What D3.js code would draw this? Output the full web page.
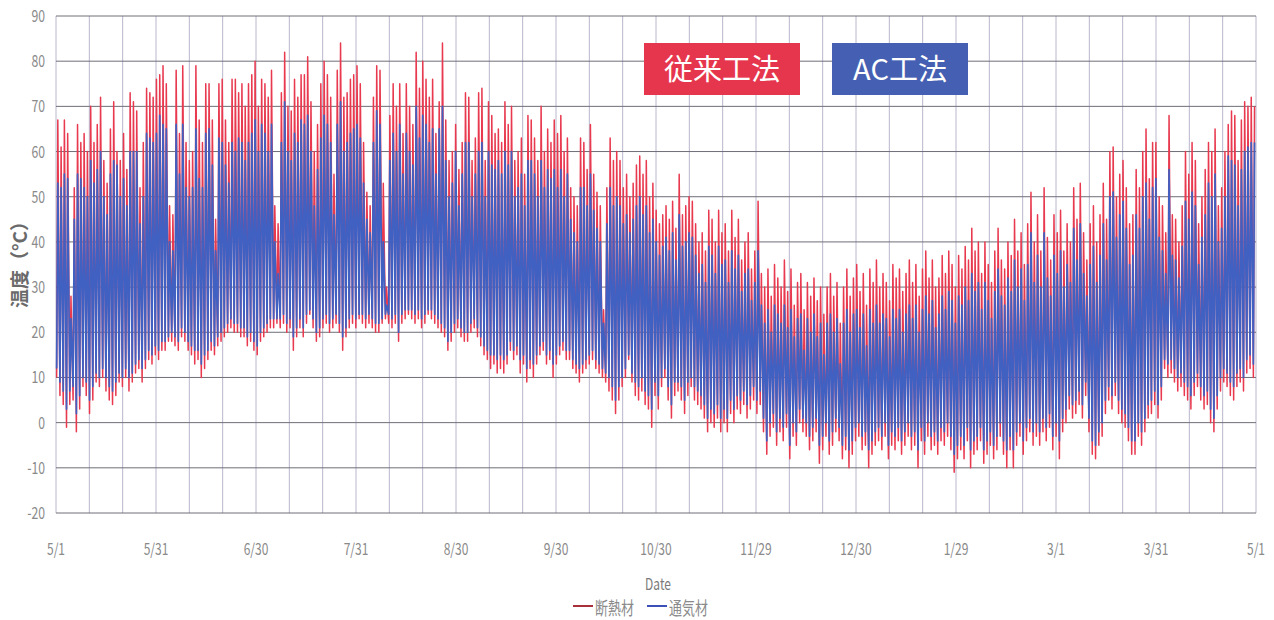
<!DOCTYPE html>
<html>
<head>
  <meta charset="UTF-8" />
  <title>温度</title>
  <script src="https://d3js.org/d3.v7.min.js"></script>
  <style>
    body { margin: 0; background: #fff; }
    text { font-family: "Noto Sans CJK JP", "Noto Sans", sans-serif; }
  </style>
</head>
<body>
  <div id="chart"></div>
  <script>
    // x axis labels (one every 730 hours), y ticks
    const tickLabels = ["5/1", "5/31", "6/30", "7/31", "8/30", "9/30", "10/30", "11/29", "12/30", "1/29", "3/1", "3/31", "5/1"];
    const yTicks = [-20, -10, 0, 10, 20, 30, 40, 50, 60, 70, 80, 90];
    const seriesNames = ["断熱材", "通気材"];
    const methodLabels = ["従来工法", "AC工法"];

    // daily max / min, day 0 = 5/1
    const redMax = [
      67,61,67,64,28,52,66,62,64,60, 70,62,66,72,58,53,65,71,60,58,
      64,56,73,71,69,52,62,74,73,72, 76,77,79,75,48,46,78,64,79,62,
      58,60,79,67,62,75,75,67,45,75, 76,67,62,76,76,73,75,70,75,77,
      80,70,76,75,72,78,48,44,73,82, 70,69,76,72,77,77,81,71,60,66,
      75,80,77,72,55,78,84,72,73,76, 77,79,75,62,51,48,72,79,78,53,
      30,68,75,70,75,64,75,70,66,82, 74,80,76,72,76,64,71,84,67,58,
      60,66,56,62,73,72,58,63,73,74, 58,71,68,64,65,62,71,66,70,58,
      60,63,55,68,67,63,58,70,60,65, 62,67,64,68,60,63,52,50,48,63,
      62,56,66,55,51,48,25,52,63,58, 60,58,52,55,50,53,57,59,55,58,
      50,53,47,44,46,48,45,49,43,55, 46,48,50,49,44,40,42,38,47,45,
      40,47,42,44,38,47,41,45,36,40, 42,34,38,49,33,30,34,28,35,32,
      30,36,29,34,26,31,33,25,31,28, 32,27,30,24,30,33,28,31,22,30,
      34,28,32,35,29,33,26,34,31,36, 30,33,31,27,35,32,34,29,33,36,
      31,35,28,34,38,32,36,30,32,37, 33,38,35,30,37,34,39,36,43,38,
      40,33,40,35,31,38,43,36,34,40, 37,45,38,42,35,44,51,40,46,38,
      52,41,36,46,42,47,38,44,40,52, 45,53,42,36,44,48,40,46,53,45,
      60,61,50,55,58,52,44,46,56,52, 60,65,54,62,62,50,48,42,68,46,
      45,40,48,60,55,62,58,44,50,56, 62,60,65,48,52,60,66,69,68,58,
      67,71,70,72,70
    ];
    const redMin = [
      10,6,4,-1,4,5,-2,3,8,6, 2,5,9,8,10,7,5,4,6,9,
      8,10,7,9,11,12,9,12,14,13, 15,14,16,16,18,18,17,16,19,18,
      16,15,13,14,10,12,14,16,15,17, 18,19,20,21,20,20,19,19,17,18,
      16,15,18,19,20,21,21,22,21,22, 20,21,16,19,21,19,22,24,21,18,
      19,21,22,20,21,22,20,16,19,21, 22,21,23,22,21,22,21,20,20,22,
      23,22,21,22,18,22,23,24,23,22, 23,21,22,24,23,22,21,20,19,16,
      18,20,21,19,18,18,20,21,19,17, 15,14,12,13,11,12,11,13,16,14,
      15,11,13,9,12,10,13,15,16,13, 14,10,13,15,16,14,14,12,11,9,
      11,12,13,14,12,11,10,9,7,5, 2,5,8,10,14,9,6,5,7,4,
      3,-1,6,3,8,10,5,1,6,7, 5,2,6,8,5,4,3,1,-2,0,
      -1,1,-2,0,-2,2,0,3,2,4, 1,3,5,2,4,-2,-7,-3,-1,-5,
      -2,-4,-1,-8,-3,-5,0,-2,-3,-6, -4,-2,-9,-6,-3,-7,-5,-2,-4,-8,
      -6,-10,-7,-4,-3,-6,-5,-10,-7,-5, -4,-6,-3,-8,-5,-6,-4,-7,-5,-3,
      -6,-5,-10,-4,-7,-3,-6,-5,-7,-4, -5,-3,-6,-11,-8,-6,-8,-4,-10,-7,
      -6,-4,-9,-7,-5,-8,-6,-3,-7,-10, -6,-10,-5,-3,-7,-4,-2,-5,-3,-5,
      -2,-4,-1,-6,-3,-8,-2,0,3,1, 2,4,1,6,-2,-7,-8,-5,-3,2,
      5,3,6,2,0,-1,-4,-7,-7,-3, -5,-2,1,2,4,1,5,12,10,11,
      9,7,8,6,5,3,6,8,5,3, 4,0,-2,3,7,9,8,6,5,8,
      9,7,11,12,10
    ];
    const blueMax = [
      53,52,55,54,23,45,55,54,52,50, 58,53,56,60,50,46,55,58,57,50,
      54,48,60,60,60,44,50,64,63,62, 64,68,66,65,40,38,66,55,66,52,
      50,52,65,54,52,64,65,57,38,63, 62,57,53,62,60,63,62,58,62,64,
      67,60,66,64,60,66,40,33,62,71, 60,58,64,62,67,66,68,60,48,56,
      63,68,66,62,46,66,71,60,62,64, 65,66,63,53,45,42,62,69,66,40,
      26,58,64,60,66,55,64,60,57,70, 63,68,66,62,65,55,65,70,58,50,
      53,60,48,55,62,62,50,55,60,62, 50,60,57,56,58,55,60,57,60,50,
      52,55,48,58,58,55,50,58,52,56, 54,56,52,56,50,55,45,42,40,52,
      52,48,55,47,43,40,22,44,52,48, 50,48,44,46,42,45,48,50,46,48,
      42,45,40,37,39,41,38,42,36,46, 39,40,42,41,37,33,35,31,39,37,
      33,39,35,36,31,38,34,37,29,33, 34,27,31,38,26,22,25,20,26,24,
      22,26,21,25,19,23,24,16,23,20, 24,19,22,15,22,24,20,23,13,22,
      25,20,24,25,21,24,17,25,22,26, 22,24,23,19,25,23,25,20,24,26,
      23,26,20,25,28,24,27,21,24,28, 25,29,27,22,28,26,30,27,33,29,
      31,25,31,27,23,29,34,28,26,32, 29,36,30,34,27,35,42,31,37,30,
      42,32,28,37,33,38,30,35,31,43, 36,44,33,28,35,39,31,37,44,36,
      50,51,41,46,49,43,35,37,46,43, 50,53,45,52,54,41,38,33,56,37,
      36,32,39,49,45,51,48,35,41,46, 53,50,55,40,43,50,59,58,57,48,
      56,60,61,62,62
    ];
    const blueMin = [
      12,9,7,3,7,8,2,6,10,9, 5,8,11,10,12,10,8,7,9,11,
      10,12,10,11,13,14,12,14,16,15, 17,16,18,18,19,20,19,18,21,20,
      18,17,16,16,13,15,16,18,17,19, 20,21,22,23,22,22,21,21,19,20,
      18,17,20,21,22,23,23,23,23,24, 22,23,19,21,23,21,24,25,23,20,
      21,23,24,22,23,24,22,19,21,23, 24,23,24,24,23,24,23,22,22,23,
      24,24,23,24,20,24,25,25,25,24, 25,23,24,25,25,24,23,22,21,18,
      20,22,23,21,20,20,22,23,21,19, 17,16,15,15,14,15,14,15,18,16,
      17,14,15,12,14,13,15,17,18,15, 16,13,15,17,18,16,16,14,13,12,
      13,14,15,16,14,13,12,11,10,8, 5,8,10,12,15,11,9,8,10,7,
      6,3,9,6,10,12,8,4,9,9, 8,5,9,10,8,7,6,4,1,3,
      2,4,1,3,1,5,3,6,5,7, 4,6,8,5,7,1,-4,0,2,-2,
      1,-1,2,-5,0,-2,3,1,0,-3, -1,1,-5,-3,0,-4,-2,1,-1,-5,
      -3,-6,-4,-1,0,-3,-2,-6,-4,-2, -1,-3,0,-5,-2,-3,-1,-4,-2,0,
      -3,-2,-6,-1,-4,0,-3,-2,-4,-1, -2,0,-3,-7,-5,-3,-5,-1,-6,-4,
      -3,-1,-6,-4,-2,-5,-3,0,-4,-6, -3,-6,-2,0,-4,-1,1,-2,0,-2,
      1,-1,2,-3,0,-4,1,3,6,4, 5,7,4,9,1,-4,-5,-2,0,5,
      8,6,9,5,3,2,-1,-4,-4,0, -2,1,4,5,7,4,8,14,13,14,
      12,10,11,9,8,6,9,11,8,6, 7,3,1,6,10,12,11,9,8,11,
      12,10,14,15,13
    ];

    const nDays = redMax.length;
    const width = 1274, height = 620;
    const plotLeft = 56, plotRight = 1256, plotTop = 16, plotBottom = 513;

    const svg = d3.select("#chart").append("svg")
      .attr("width", width)
      .attr("height", height);

    const x = d3.scaleLinear().domain([0, nDays]).range([plotLeft, plotRight]);
    const y = d3.scaleLinear().domain([-20, 90]).range([plotBottom, plotTop]);

    // vertical grid: 3 per label interval
    const gridDays = d3.range(0, 37).map(i => i * nDays / 36);
    svg.append("g")
      .selectAll("line")
      .data(gridDays)
      .join("line")
      .attr("x1", d => x(d)).attr("x2", d => x(d))
      .attr("y1", y(90)).attr("y2", y(-20))
      .attr("stroke", "#b9b6cc")
      .attr("stroke-width", 1);

    // horizontal grid
    svg.append("g")
      .selectAll("line")
      .data(yTicks)
      .join("line")
      .attr("x1", plotLeft).attr("x2", plotRight)
      .attr("y1", d => y(d)).attr("y2", d => y(d))
      .attr("stroke", "#6e6e78")
      .attr("stroke-width", 1);

    // y tick labels (narrow look)
    svg.append("g")
      .selectAll("text")
      .data(yTicks)
      .join("text")
      .attr("transform", d => `translate(45,${y(d) + 6}) scale(0.72,1)`)
      .attr("text-anchor", "end")
      .attr("font-size", 17)
      .attr("fill", "#8a8a8a")
      .text(d => d);

    // x tick labels
    svg.append("g")
      .selectAll("text")
      .data(tickLabels)
      .join("text")
      .attr("transform", (d, i) => `translate(${x(i * nDays / 12)},555) scale(0.75,1)`)
      .attr("text-anchor", "middle")
      .attr("font-size", 16)
      .attr("fill", "#8a8a8a")
      .text(d => d);

    // y title
    svg.append("text")
      .attr("transform", "translate(27,260) rotate(-90)")
      .attr("text-anchor", "middle")
      .attr("font-size", 19)
      .attr("font-weight", "bold")
      .attr("fill", "#6a6a6a")
      .text("温度（°C）");

    // series as min/max zigzag per day
    function toPoints(mins, maxs) {
      const pts = [];
      for (let i = 0; i < mins.length; i++) {
        pts.push([i + 0.2, mins[i]]);
        pts.push([i + 0.55, maxs[i]]);
      }
      return pts;
    }
    const line = d3.line().x(p => x(p[0])).y(p => y(p[1]));

    svg.append("path")
      .attr("d", line(toPoints(redMin, redMax)))
      .attr("fill", "none")
      .attr("stroke", "#e8394f")
      .attr("stroke-width", 1.5)
      .attr("stroke-linejoin", "round");

    svg.append("path")
      .attr("d", line(toPoints(blueMin, blueMax)))
      .attr("fill", "none")
      .attr("stroke", "#4060c2")
      .attr("stroke-width", 1.7)
      .attr("stroke-linejoin", "round");

    // method boxes
    const boxes = [
      { label: methodLabels[0], x: 644, w: 156, fill: "#e6364d" },
      { label: methodLabels[1], x: 832, w: 136, fill: "#4560b2" }
    ];
    const bx = svg.append("g").selectAll("g").data(boxes).join("g");
    bx.append("rect")
      .attr("x", d => d.x).attr("y", 43)
      .attr("width", d => d.w).attr("height", 52)
      .attr("fill", d => d.fill);
    bx.append("text")
      .attr("x", d => d.x + d.w / 2).attr("y", 80)
      .attr("text-anchor", "middle")
      .attr("font-size", 29)
      .attr("fill", "#fff")
      .text(d => d.label);

    // axis title + legend
    svg.append("text")
      .attr("transform", "translate(658,590) scale(0.75,1)")
      .attr("text-anchor", "middle")
      .attr("font-size", 16)
      .attr("fill", "#7a7a7a")
      .text("Date");

    const legend = [
      { name: seriesNames[0], color: "#a8303a", x: 573 },
      { name: seriesNames[1], color: "#3d50b8", x: 647 }
    ];
    const lg = svg.append("g").selectAll("g").data(legend).join("g");
    lg.append("line")
      .attr("x1", d => d.x).attr("x2", d => d.x + 20)
      .attr("y1", 606).attr("y2", 606)
      .attr("stroke", d => d.color)
      .attr("stroke-width", 2);
    lg.append("text")
      .attr("transform", d => `translate(${d.x + 22},615) scale(0.72,1)`)
      .attr("font-size", 18)
      .attr("fill", "#8a8a8a")
      .text(d => d.name);
  </script>
</body>
</html>
